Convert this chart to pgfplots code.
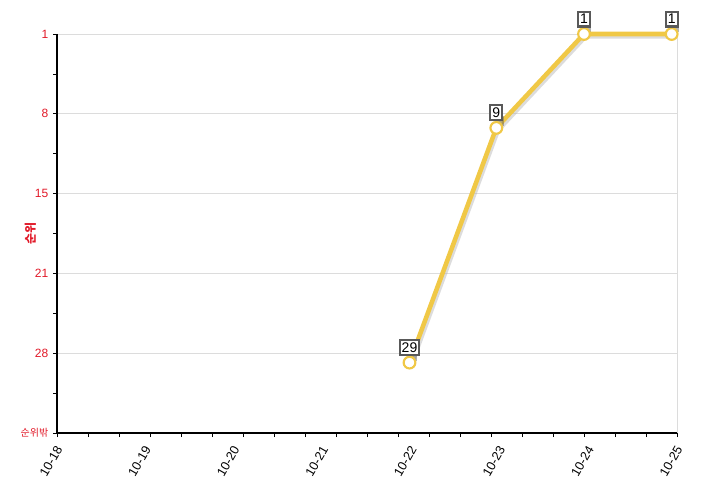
\documentclass[border=0pt]{standalone}
\usepackage{pgfplots}
\pgfplotsset{compat=1.18}
\usepackage{fontspec}
\setmainfont{Liberation Sans}
\newfontfamily\kr{Noto Sans CJK KR}
\usetikzlibrary{calc}
\definecolor{rankline}{RGB}{240,200,70}
\definecolor{ticklbl}{RGB}{225,25,40}
\definecolor{gridgray}{RGB}{220,220,220}

\begin{document}
\begin{tikzpicture}
\begin{axis}[
    scale only axis,
    width=465pt, height=299.25pt,
    xmin=0, xmax=7,
    ymin=1, ymax=35,
    y dir=reverse,
    clip=false,
    /pgf/number format/assume math mode=true,
    axis x line*=bottom, axis y line*=left,
    x axis line style={-, black, line width=0.8pt},
    y axis line style={-, black, line width=0.8pt},
    tick align=outside,
    major tick length=3pt, minor tick length=3pt,
    tick style={black, line width=0.6pt},
    xtick={0,0.35,0.7,1.05,1.4,1.75,2.1,2.45,2.8,3.15,3.5,3.85,4.2,4.55,4.9,5.25,5.6,5.95,6.3,6.65,7},
    xticklabels={},
    extra x ticks={0,1,2,3,4,5,6,7},
    extra x tick labels={10-18,10-19,10-20,10-21,10-22,10-23,10-24,10-25},
    extra x tick style={major tick length=0pt, grid=none},
    xticklabel style={font=\fontsize{9.5}{10}\selectfont, rotate=60, anchor=east, xshift=-4.8pt, yshift=-6.6pt},
    ytick={1,7.8,14.6,21.4,28.2,35},
    yticklabels={1,8,15,21,28,{\kr\fontsize{7.5}{8}\selectfont 순위밖}},
    minor ytick={4.4,11.2,18,24.8,31.6},
    yticklabel style={font=\fontsize{9}{10}\selectfont, text=ticklbl},
    ymajorgrids,
    major grid style={gridgray, line width=0.6pt},
    ylabel={\kr 순위},
    ylabel style={at={(axis cs:0,18)}, anchor=center, yshift=20pt, text=ticklbl, font=\fontsize{9}{10}\selectfont\bfseries},
    nodes near coords,
    every node near coord/.append style={draw=gray!70!black, fill=white, text=black, inner xsep=1.5pt, inner ysep=2pt,
        font=\fontsize{10.5}{12}\selectfont, anchor=south, yshift=4.8pt},
]
\coordinate (tl) at (axis cs:0,1);
\coordinate (br) at (axis cs:7,35);
\draw[gridgray, line width=0.6pt] (axis cs:7,1) -- (axis cs:7,35);

% shadow
\addplot[black!30, opacity=0.45, line width=3.4pt, no markers, forget plot, nodes near coords=,
    transform canvas={xshift=1.2pt, yshift=-1.8pt}]
    coordinates {(3.98,29) (4.96,9) (5.95,1) (6.94,1)};

\addplot[rankline, line width=3.4pt, mark=*, mark size=4.4pt,
    mark options={fill=white, draw=rankline, line width=1.6pt}]
    coordinates {(3.98,29) (4.96,9) (5.95,1) (6.94,1)};
\end{axis}
\pgfresetboundingbox
\path ($(tl)+(-42.75pt,25.5pt)$) rectangle ($(br)+(30.75pt,-41.25pt)$);
\end{tikzpicture}
\end{document}
